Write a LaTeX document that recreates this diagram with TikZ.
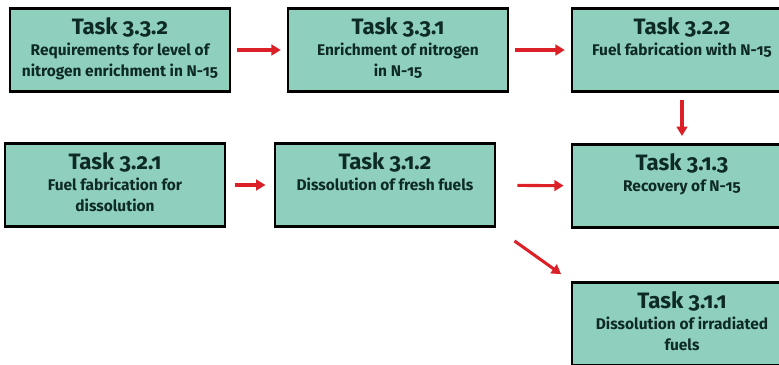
\documentclass[tikz,border=0pt]{standalone}
\usepackage{fontspec}
\setmainfont{Fira Sans}[Numbers=OldStyle]
\usetikzlibrary{arrows.meta}

\definecolor{taskfill}{RGB}{143,207,190}
\definecolor{tasktext}{RGB}{14,42,37}
\definecolor{arrowred}{RGB}{220,32,40}

% title on top, description below
\newcommand{\tasklabel}[2]{\parbox[t][2.5cm][t]{6.5cm}{\centering
  \fontsize{19}{19}\selectfont\rule{0pt}{0.78cm}Task #1\par
  \fontsize{13.2}{0.63cm}\selectfont #2\par}}

\begin{document}
\begin{tikzpicture}[x=0.03cm,y=-0.03cm,
  task/.style={draw=black,line width=2.3pt,fill=taskfill,text=tasktext,
    font=\bfseries,inner sep=0pt,minimum width=6.6cm,minimum height=2.5cm},
  flow/.style={draw=arrowred,line width=2.6pt,-{Triangle[length=0.28cm,width=0.32cm]}}]
\useasboundingbox (0,0) rectangle (779,365);
\clip (0,0) rectangle (779,365);

\node[task] (t332) at (120,50) {\tasklabel{3.3.2}{Requirements for level of\\nitrogen enrichment in N-15}};
\node[task] (t331) at (398,50) {\tasklabel{3.3.1}{Enrichment of nitrogen\\in N-15}};
\node[task] (t322) at (682,50) {\tasklabel{3.2.2}{Fuel fabrication with N-15}};
\node[task] (t321) at (115,185) {\tasklabel{3.2.1}{Fuel fabrication for\\dissolution}};
\node[task] (t312) at (385,185) {\tasklabel{3.1.2}{Dissolution of fresh fuels}};
\node[task] (t313) at (682,186) {\tasklabel{3.1.3}{Recovery of N-15}};
\node[task] (t311) at (682,324) {\tasklabel{3.1.1}{Dissolution of irradiated\\fuels}};

\draw[flow,shorten <=5pt,shorten >=5pt] (t332)--(t331);
\draw[flow,shorten <=5pt,shorten >=5pt] (t331)--(t322);
\draw[flow,shorten <=6pt,shorten >=6pt] (t322)--(t313);
\draw[flow,shorten <=7pt,shorten >=7pt] (t321)--(t312);
\draw[flow,shorten <=18pt,shorten >=6pt] (t312)--(t313);
\draw[flow,shorten <=19pt,shorten >=10pt] (t312.south east)--(t311.north west);
\end{tikzpicture}
\end{document}
